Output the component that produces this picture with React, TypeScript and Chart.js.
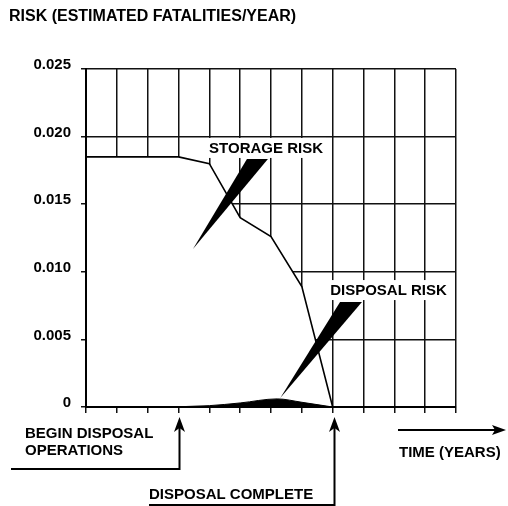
import React, { useEffect, useRef } from "react";
import { Chart, registerables } from "chart.js";

Chart.register(...registerables);

// ---- data ----
const yAxisTitle = "RISK (ESTIMATED FATALITIES/YEAR)";
const xAxisTitle = "TIME (YEARS)";
const yTickValues = [0, 0.005, 0.01, 0.015, 0.02, 0.025];
const storageYears = [0, 1, 2, 3, 4, 5, 6, 7, 8];
const storageRisk = [0.0185, 0.0185, 0.0185, 0.0185, 0.018, 0.014, 0.0126, 0.0089, 0];
const disposalYears = [2.5, 4, 5, 6.2, 7, 8];
const disposalRisk = [0, 0.0001, 0.0003, 0.0006, 0.00035, 0];
const beginDisposalYear = 3;
const disposalCompleteYear = 8;
const beginLabel = ["BEGIN DISPOSAL", "OPERATIONS"];
const completeLabel = "DISPOSAL COMPLETE";

// callouts: label position and wedge (tip + base) in data units
const calloutLabels = ["STORAGE RISK", "DISPOSAL RISK"];
const calloutLabelX = [5.84, 9.81];
const calloutLabelY = [0.01916, 0.00865];
const calloutTipX = [3.47, 6.3];
const calloutTipY = [0.01169, 0.00067];
const calloutBaseX1 = [5.22, 8.24];
const calloutBaseX2 = [5.9, 8.95];
const calloutBaseY = [0.01834, 0.00777];

const FONT = "'Liberation Sans', Arial, Helvetica, sans-serif";

function upArrow(ctx: CanvasRenderingContext2D, x: number, tipY: number) {
  ctx.beginPath();
  ctx.moveTo(x, tipY);
  ctx.lineTo(x - 5.5, tipY + 15);
  ctx.lineTo(x, tipY + 11);
  ctx.lineTo(x + 5.5, tipY + 15);
  ctx.closePath();
  ctx.fill();
}

const annotPlugin = {
  id: "annot",
  beforeDraw(chart: any) {
    const { ctx, width, height } = chart;
    ctx.save();
    ctx.fillStyle = "#fff";
    ctx.fillRect(0, 0, width, height);
    ctx.restore();
  },
  afterDatasetsDraw(chart: any) {
    const { ctx, chartArea } = chart;
    const xs = chart.scales.x;
    const ys = chart.scales.y;
    ctx.save();
    // redraw axis lines over the white fill
    ctx.strokeStyle = "#000";
    ctx.lineWidth = 2;
    ctx.beginPath();
    ctx.moveTo(chartArea.left, chartArea.top);
    ctx.lineTo(chartArea.left, chartArea.bottom);
    ctx.lineTo(chartArea.right, chartArea.bottom);
    ctx.stroke();

    ctx.font = `bold 15px ${FONT}`;
    ctx.textAlign = "center";
    ctx.textBaseline = "middle";
    for (let i = 0; i < calloutLabels.length; i++) {
      const lx = xs.getPixelForValue(calloutLabelX[i]);
      const ly = ys.getPixelForValue(calloutLabelY[i]);
      const w = ctx.measureText(calloutLabels[i]).width;
      ctx.fillStyle = "#fff";
      ctx.fillRect(lx - w / 2 - 3, ly - 10, w + 6, 20);
      ctx.fillStyle = "#000";
      ctx.fillText(calloutLabels[i], lx, ly + 1);
      // wedge
      ctx.beginPath();
      ctx.moveTo(xs.getPixelForValue(calloutTipX[i]), ys.getPixelForValue(calloutTipY[i]));
      ctx.lineTo(xs.getPixelForValue(calloutBaseX1[i]), ys.getPixelForValue(calloutBaseY[i]));
      ctx.lineTo(xs.getPixelForValue(calloutBaseX2[i]), ys.getPixelForValue(calloutBaseY[i]));
      ctx.closePath();
      ctx.fill();
    }
    ctx.restore();
  },
  afterDraw(chart: any) {
    const { ctx, chartArea } = chart;
    const xs = chart.scales.x;
    ctx.save();
    ctx.fillStyle = "#000";
    ctx.strokeStyle = "#000";
    ctx.textBaseline = "middle";
    ctx.textAlign = "left";
    // title
    ctx.font = `bold 16px ${FONT}`;
    ctx.fillText(yAxisTitle, 9, 17);

    ctx.font = `bold 15px ${FONT}`;
    const bottom = chartArea.bottom;
    // begin disposal
    ctx.fillText(beginLabel[0], 25, bottom + 27);
    ctx.fillText(beginLabel[1], 25, bottom + 44);
    const bx = Math.round(xs.getPixelForValue(beginDisposalYear)) + 0.5;
    ctx.lineWidth = 2;
    ctx.beginPath();
    ctx.moveTo(11, bottom + 62);
    ctx.lineTo(bx, bottom + 62);
    ctx.lineTo(bx, bottom + 20);
    ctx.stroke();
    upArrow(ctx, bx, bottom + 10);

    // disposal complete
    ctx.fillText(completeLabel, 149, bottom + 88);
    const cx = Math.round(xs.getPixelForValue(disposalCompleteYear)) + 1.5;
    ctx.beginPath();
    ctx.moveTo(149, bottom + 98);
    ctx.lineTo(cx, bottom + 98);
    ctx.lineTo(cx, bottom + 20);
    ctx.stroke();
    upArrow(ctx, cx, bottom + 10);

    // time arrow
    ctx.fillText(xAxisTitle, 399, bottom + 46);
    ctx.beginPath();
    ctx.moveTo(398, bottom + 23);
    ctx.lineTo(496, bottom + 23);
    ctx.stroke();
    ctx.beginPath();
    ctx.moveTo(506, bottom + 23);
    ctx.lineTo(492, bottom + 18);
    ctx.lineTo(495, bottom + 23);
    ctx.lineTo(492, bottom + 28);
    ctx.closePath();
    ctx.fill();
    ctx.restore();
  },
};

export default function App() {
  const ref = useRef<HTMLCanvasElement>(null);
  useEffect(() => {
    document.body.style.margin = "0";
    const canvas = ref.current!;
    const chart = new Chart(canvas, {
      type: "line",
      data: {
        datasets: [
          {
            label: "Disposal risk",
            data: disposalYears.map((x, i) => ({ x, y: disposalRisk[i] })),
            borderColor: "#000",
            backgroundColor: "#000",
            borderWidth: 1,
            pointRadius: 0,
            fill: "origin",
            cubicInterpolationMode: "monotone",
          },
          {
            label: "Storage risk",
            data: storageYears.map((x, i) => ({ x, y: storageRisk[i] })),
            borderColor: "#000",
            backgroundColor: "#fff",
            borderWidth: 1.6,
            pointRadius: 0,
            fill: "origin",
            tension: 0,
          },
        ],
      },
      options: {
        animation: false,
        responsive: true,
        maintainAspectRatio: false,
        layout: { padding: { top: 69, right: 52, left: 0, bottom: 0 } },
        plugins: {
          legend: { display: false },
          tooltip: { enabled: false },
          title: { display: false },
        },
        scales: {
          x: {
            type: "linear",
            min: 0,
            max: 12,
            ticks: { stepSize: 1, display: false },
            grid: { color: "#111", lineWidth: 1.5, tickLength: 6, drawTicks: true },
            border: { display: true, color: "#000", width: 2 },
            afterFit: (s: any) => {
              s.height = 99;
            },
          },
          y: {
            type: "linear",
            min: 0,
            max: 0.025,
            afterBuildTicks: (s: any) => {
              s.ticks = yTickValues.map((v) => ({ value: v }));
            },
            ticks: {
              color: "#000",
              font: { family: FONT, weight: "bold", size: 15 },
              padding: 10,
              labelOffset: -4,
              callback: (v: any) => (Number(v) === 0 ? "0" : Number(v).toFixed(3)),
            },
            grid: { color: "#111", lineWidth: 1.5, tickLength: 5, drawTicks: true },
            border: { display: true, color: "#000", width: 2 },
            afterFit: (s: any) => {
              s.width = 86;
            },
          },
        },
      },
      plugins: [annotPlugin],
    } as any);
    return () => chart.destroy();
  }, []);
  return (
    <div style={{ width: 508, height: 506, position: "relative" }}>
      <canvas ref={ref} />
    </div>
  );
}
